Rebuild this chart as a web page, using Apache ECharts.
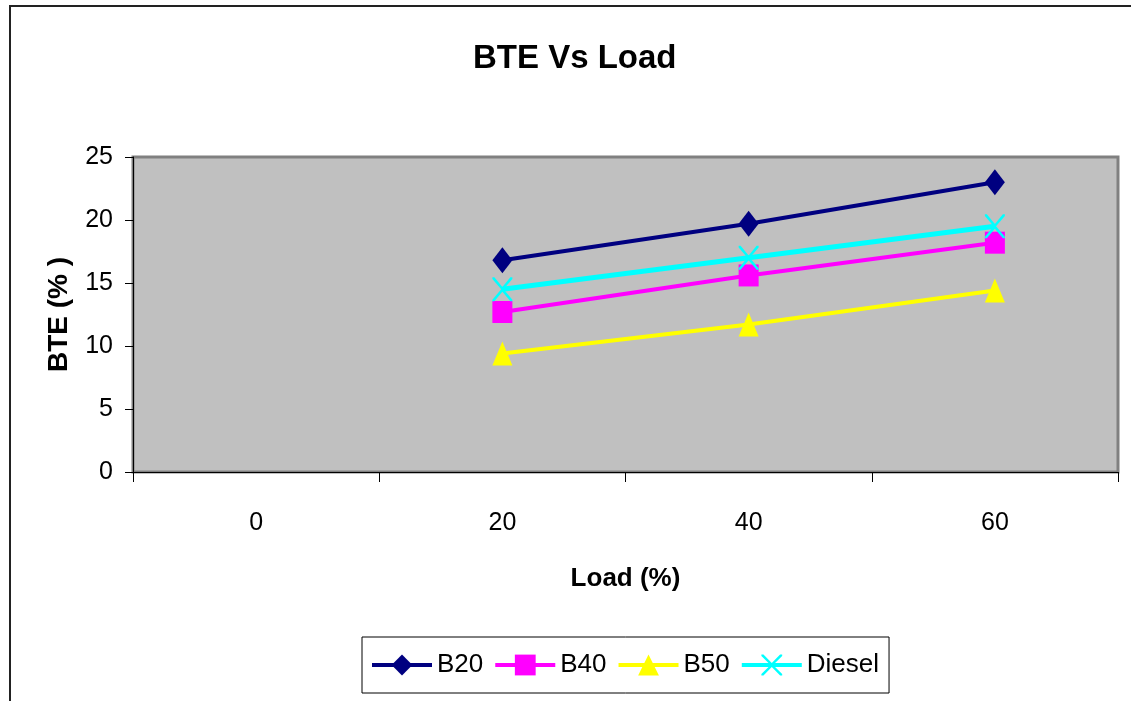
<!DOCTYPE html>
<html>
<head>
<meta charset="utf-8">
<script src="https://cdn.jsdelivr.net/npm/echarts@6/dist/echarts.min.js"></script>
<style>html,body{margin:0;padding:0;background:#fff;}#c{width:1131px;height:701px;}</style>
</head>
<body>
<div id="c"></div>
<script>
const categories = ['0', '20', '40', '60'];
const b20 = [null, 16.8, 19.7, 23.0];
const b40 = [null, 12.7, 15.6, 18.2];
const b50 = [null, 9.4, 11.7, 14.4];
const diesel = [null, 14.5, 17.0, 19.5];
const yTicks = { min: 0, max: 25, interval: 5 };

const FONT = '"Liberation Sans", Arial, sans-serif';
const chart = echarts.init(document.getElementById('c'), null, { renderer: 'canvas' });

const xPath = 'path://M0,0L2,0L10,9.2L18,0L20,0L20,1.6L11.2,11.5L20,21.4L20,23L18,23L10,13.8L2,23L0,23L0,21.4L8.8,11.5L0,1.6Z';

chart.setOption({
  animation: false,
  backgroundColor: '#fff',
  graphic: [{
    type: 'rect', silent: true, z: -10,
    shape: { x: 10, y: 6, width: 1300, height: 900 },
    style: { fill: 'none', stroke: '#222', lineWidth: 2 }
  }],
  title: {
    text: 'BTE Vs Load',
    left: 473, top: 42, padding: 0,
    textStyle: { fontFamily: FONT, fontSize: 33, fontWeight: 'bold', color: '#000' }
  },
  legend: {
    left: 362, top: 637,
    padding: [15, 10, 15, 8],
    borderColor: '#000', borderWidth: 1,
    itemWidth: 60, itemHeight: 26, itemGap: 10,
    lineStyle: { width: 4 },
    textStyle: { fontFamily: FONT, fontSize: 26, color: '#000' },
    data: ['B20', 'B40', 'B50', 'Diesel']
  },
  grid: {
    left: 133, top: 157, right: 13, bottom: 229,
    show: true, backgroundColor: '#C0C0C0', borderColor: '#808080', borderWidth: 3,
    containLabel: false
  },
  xAxis: {
    type: 'category', data: categories, boundaryGap: true,
    name: 'Load (%)', nameLocation: 'middle', nameGap: 94,
    nameTextStyle: { fontFamily: FONT, fontSize: 26, fontWeight: 'bold', color: '#000' },
    axisLine: { show: true, lineStyle: { color: '#000', width: 1 } },
    axisTick: { show: true, length: 10, lineStyle: { color: '#000' } },
    axisLabel: { fontFamily: FONT, fontSize: 25, color: '#000', margin: 39 },
    splitLine: { show: false }
  },
  yAxis: {
    type: 'value', min: yTicks.min, max: yTicks.max, interval: yTicks.interval,
    name: 'BTE (% )', nameLocation: 'middle', nameGap: 60, nameRotate: 90,
    nameTextStyle: { fontFamily: FONT, fontSize: 28, fontWeight: 'bold', color: '#000' },
    axisLine: { show: true, lineStyle: { color: '#000', width: 1 } },
    axisTick: { show: true, length: 8, lineStyle: { color: '#000' } },
    axisLabel: { fontFamily: FONT, fontSize: 25, color: '#000', margin: 20 },
    splitLine: { show: false }
  },
  series: [
    {
      name: 'B20', type: 'line', data: b20, connectNulls: false,
      symbol: 'diamond', symbolSize: [20, 26],
      lineStyle: { color: '#000080', width: 4 },
      itemStyle: { color: '#000080' }
    },
    {
      name: 'B40', type: 'line', data: b40,
      symbol: 'rect', symbolSize: [20, 22],
      lineStyle: { color: '#FF00FF', width: 4 },
      itemStyle: { color: '#FF00FF' }
    },
    {
      name: 'B50', type: 'line', data: b50,
      symbol: 'triangle', symbolSize: [20, 24],
      lineStyle: { color: '#FFFF00', width: 4 },
      itemStyle: { color: '#FFFF00' }
    },
    {
      name: 'Diesel', type: 'line', data: diesel,
      symbol: xPath, symbolSize: [20, 24], symbolKeepAspect: false,
      lineStyle: { color: '#00FFFF', width: 5 },
      itemStyle: { color: '#00FFFF' }
    }
  ]
});
</script>
</body>
</html>
